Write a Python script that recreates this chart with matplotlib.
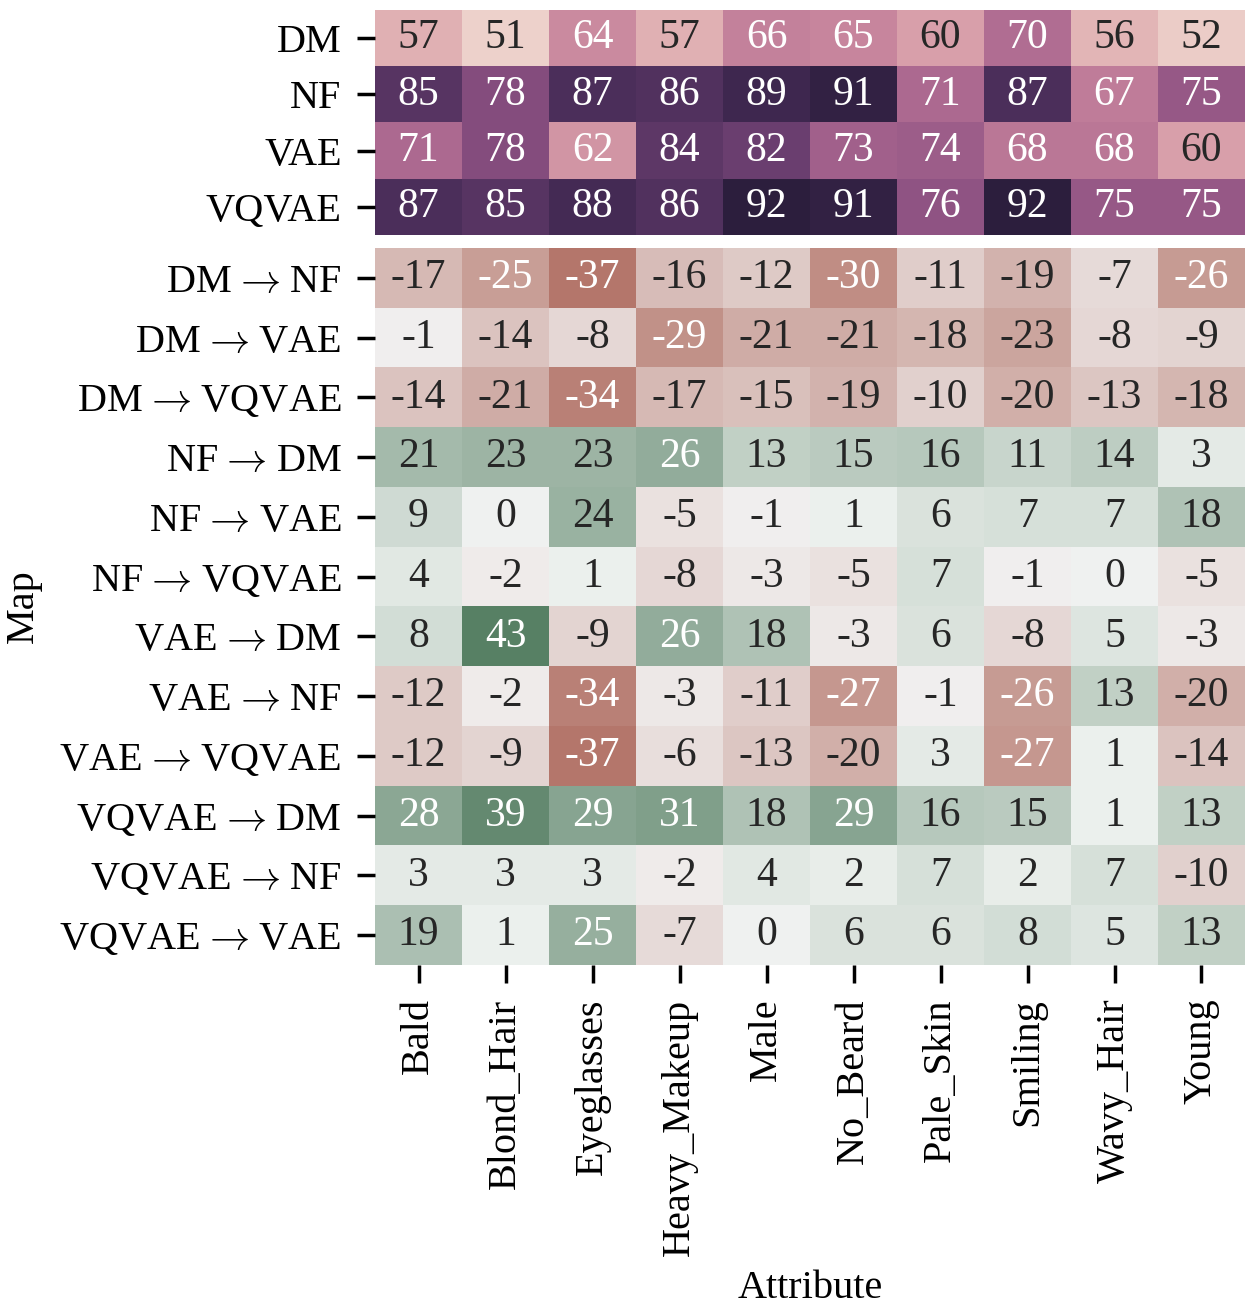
import matplotlib
matplotlib.use("Agg")
import matplotlib.pyplot as plt
import matplotlib.colors as mcolors
import numpy as np
import seaborn as sns

attributes = ["Bald", "Blond_Hair", "Eyeglasses", "Heavy_Makeup", "Male",
              "No_Beard", "Pale_Skin", "Smiling", "Wavy_Hair", "Young"]

models = ["DM", "NF", "VAE", "VQVAE"]
acc = [
    [57, 51, 64, 57, 66, 65, 60, 70, 56, 52],
    [85, 78, 87, 86, 89, 91, 71, 87, 67, 75],
    [71, 78, 62, 84, 82, 73, 74, 68, 68, 60],
    [87, 85, 88, 86, 92, 91, 76, 92, 75, 75],
]

maps = ["DM → NF", "DM → VAE", "DM → VQVAE", "NF → DM", "NF → VAE",
        "NF → VQVAE", "VAE → DM", "VAE → NF", "VAE → VQVAE",
        "VQVAE → DM", "VQVAE → NF", "VQVAE → VAE"]
diff = [
    [-17, -25, -37, -16, -12, -30, -11, -19, -7, -26],
    [-1, -14, -8, -29, -21, -21, -18, -23, -8, -9],
    [-14, -21, -34, -17, -15, -19, -10, -20, -13, -18],
    [21, 23, 23, 26, 13, 15, 16, 11, 14, 3],
    [9, 0, 24, -5, -1, 1, 6, 7, 7, 18],
    [4, -2, 1, -8, -3, -5, 7, -1, 0, -5],
    [8, 43, -9, 26, 18, -3, 6, -8, 5, -3],
    [-12, -2, -34, -3, -11, -27, -1, -26, 13, -20],
    [-12, -9, -37, -6, -13, -20, 3, -27, 1, -14],
    [28, 39, 29, 31, 18, 29, 16, 15, 1, 13],
    [3, 3, 3, -2, 4, 2, 7, 2, 7, -10],
    [19, 1, 25, -7, 0, 6, 6, 8, 5, 13],
]

plt.rcParams["font.family"] = ["Liberation Serif", "DejaVu Serif"]
plt.rcParams["mathtext.fontset"] = "cm"
FS = 29
AFS = 30


def lum(c):
    rgb = np.array(mcolors.to_rgb(c))
    rgb = np.where(rgb <= .03928, rgb / 12.92, ((rgb + .055) / 1.055) ** 2.4)
    return .2126 * rgb[0] + .7152 * rgb[1] + .0722 * rgb[2]


def draw(ax, data, cmap, vmin, vmax, rows):
    data = np.array(data)
    ax.imshow(data, cmap=cmap, vmin=vmin, vmax=vmax, aspect="auto",
              interpolation="nearest")
    norm = mcolors.Normalize(vmin, vmax)
    for i in range(data.shape[0]):
        for j in range(data.shape[1]):
            c = cmap(norm(data[i, j]))
            tc = ".15" if lum(c) > .408 else "w"
            ax.text(j, i, str(data[i, j]), ha="center", va="center",
                    color=tc, fontsize=AFS)
    ax.set_yticks(range(len(rows)))
    arrow = r" $\hspace{-0.22}\rightarrow\hspace{-0.22}$ "
    ax.set_yticklabels([r.replace(" → ", arrow) for r in rows], fontsize=FS)
    ax.set_xticks(range(len(attributes)))
    for s in ax.spines.values():
        s.set_visible(False)
    ax.tick_params(length=13, width=2.5, pad=11)


fig = plt.figure(figsize=(12.51, 13.05), dpi=100)
ax1 = fig.add_axes([0.2998, 0.8199, 0.6954, 0.1724])
ax2 = fig.add_axes([0.2998, 0.2605, 0.6954, 0.5494])

top_cmap = sns.cubehelix_palette(as_cmap=True)
draw(ax1, acc, top_cmap, np.min(acc), np.max(acc), models)
ax1.set_xticklabels([])
ax1.tick_params(axis="x", length=0)

div_cmap = sns.diverging_palette(20, 140, s=45, l=50, as_cmap=True)
vr = np.max(np.abs(diff))
draw(ax2, diff, div_cmap, -vr, vr, maps)
ax2.set_xticklabels(attributes, rotation=90, fontsize=FS)
ax2.set_xlabel("Attribute", fontsize=FS)
ax2.set_ylabel("Map", fontsize=FS)
ax2.xaxis.set_label_coords(0.5, -0.425)
ax2.yaxis.set_label_coords(-0.383, 0.5)

fig.savefig("out.png", dpi=100)
